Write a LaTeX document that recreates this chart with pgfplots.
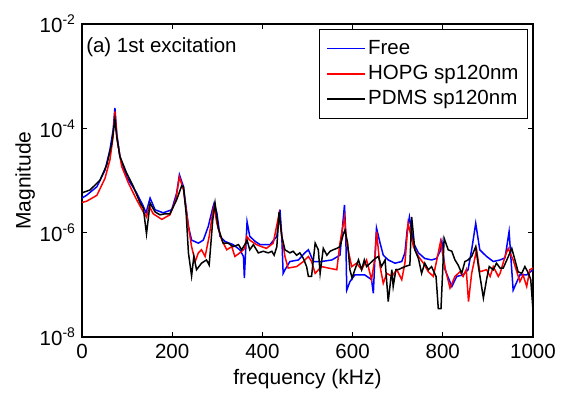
\documentclass[border=0pt]{standalone}
\usepackage{fontspec}
\setmainfont{Liberation Sans}
\usepackage{pgfplots}
\pgfplotsset{compat=1.18}
\newcommand{\fs}{\fontsize{20.5}{24}\selectfont}
\newcommand{\fl}{\fontsize{21}{25}\selectfont}
\newcommand{\pw}[1]{10\raisebox{8pt}{\fontsize{14}{14}\selectfont -#1}}
\begin{document}
\fs
\begin{tikzpicture}[x=1pt,y=1pt]
\path[use as bounding box] (-82,-55) rectangle (484,337);
\begin{axis}[
  at={(0pt,0pt)}, anchor=south west,
  scale only axis, width=451pt, height=313pt,
  xmin=0, xmax=1000, ymin=1e-8, ymax=1e-2, ymode=log,
  xtick={0,200,400,600,800,1000},
  ytick={1e-8,1e-6,1e-4,1e-2},
  yticklabels={\pw{8},\pw{6},\pw{4},\pw{2}},
  minor tick num=0, yminorticks=false,
  tick align=inside, tick pos=both,
  major tick length=5pt,
  tick style={black, line width=0.8pt},
  axis line style={line width=1.1pt},
  /pgf/number format/assume math mode=true,
  /pgf/number format/1000 sep={},
  tick label style={font=\fs},
  label style={font=\fl},
  xlabel={frequency (kHz)}, ylabel={Magnitude},
  xlabel style={at={(axis description cs:0.5,0)}, anchor=center, yshift=-42pt},
  ylabel style={at={(axis description cs:-0.126,0.5)}, anchor=center},
  legend style={at={(axis description cs:0.989,0.984)}, anchor=north east,
    draw=black, line width=1pt, fill=white, font=\fs, cells={anchor=west},
    inner xsep=7pt, inner ysep=8.5pt, row sep=4pt},
  legend image code/.code={\draw[#1, line width=1.6pt] (0pt,0pt) -- (38pt,0pt);},
  no markers,
]
\addplot[blue, line width=1.5pt] coordinates {
(0,4.6e-6) (10,5.2e-6) (33,7.6e-6) (51,1.58e-5) (62,3.9e-5) (69,9.3e-5) (73,2.45e-4) (77,8.1e-5) (84,2.9e-5) (99,1.17e-5) (121,5.8e-6) (136,3.2e-6) (142,2.4e-6) (151,4.6e-6) (162,2.75e-6) (180,2.4e-6) (199,2.75e-6) (210,5.8e-6) (216,1.29e-5) (225,7.6e-6) (236,1.32e-6) (243,7.2e-7) (258,6.3e-7) (269,7.2e-7) (280,1.32e-6) (290,3.0e-6) (293,3.7e-6) (299,2.4e-6) (306,8.5e-7) (317,6.8e-7) (335,5.9e-7) (350,4.7e-7) (358,3.5e-7) (360,1.35e-7) (366,1.62e-6) (372,8.5e-7) (384,6.8e-7) (395,5.9e-7) (417,5.9e-7) (432,8.5e-7) (439,2.75e-6) (443,8.5e-7) (446,1.66e-7) (450,1.95e-7) (461,2.8e-7) (480,3.0e-7) (494,4.1e-7) (502,4.7e-7) (513,2.8e-7) (531,2.8e-7) (554,3.0e-7) (572,3.7e-7) (577,1.12e-6) (582,3.4e-6) (585,8.5e-7) (587,7.9e-8) (594,1.15e-7) (605,1.55e-7) (627,1.55e-7) (642,1.26e-7) (646,6.9e-8) (650,4.1e-7) (653,1.23e-6) (661,6.3e-7) (668,3.7e-7) (679,3.0e-7) (694,2.6e-7) (709,2.8e-7) (716,4.1e-7) (721,1.12e-6) (726,2.0e-6) (735,6.3e-7) (746,4.1e-7) (760,3.2e-7) (775,3.0e-7) (786,3.2e-7) (794,4.4e-7) (798,6.8e-7) (805,1.95e-7) (820,9.3e-8) (831,1.45e-7) (845,1.55e-7) (856,1.95e-7) (864,4.7e-7) (873,1.51e-6) (882,4.7e-7) (897,3.5e-7) (912,2.8e-7) (927,3.0e-7) (938,3.3e-7) (947,1.05e-6) (956,7.9e-8) (971,1.55e-7) (986,1.55e-7) (1000,1.95e-7)
};
\addlegendentry{Free}
\addplot[red, line width=1.5pt] coordinates {
(0,3.8e-6) (10,4.0e-6) (33,5.2e-6) (51,1.1e-5) (62,2.5e-5) (69,6.9e-5) (73,2.1e-4) (78,6.0e-5) (88,1.86e-5) (103,8.9e-6) (121,4.3e-6) (136,2.5e-6) (143,2.0e-6) (149,3.2e-6) (158,2.3e-6) (177,1.8e-6) (195,2.2e-6) (208,4.3e-6) (216,1.17e-5) (225,6.6e-6) (236,1.32e-6) (243,5.4e-7) (251,2.8e-7) (258,4.1e-7) (265,4.7e-7) (273,3.5e-7) (282,8.5e-7) (290,2.5e-6) (293,3.2e-6) (299,1.51e-6) (310,7.2e-7) (321,4.7e-7) (332,5.4e-7) (339,3.5e-7) (350,4.1e-7) (361,5.0e-7) (365,8.5e-7) (372,7.2e-7) (387,5.9e-7) (398,5.4e-7) (409,5.0e-7) (424,6.3e-7) (437,2.3e-6) (443,8.5e-7) (450,3.5e-7) (457,2.1e-7) (476,2.24e-7) (491,2.8e-7) (502,3.5e-7) (509,2.8e-7) (517,1.66e-7) (531,2.24e-7) (546,2.1e-7) (565,1.95e-7) (572,6.3e-7) (582,2.0e-6) (587,6.3e-7) (598,2.24e-7) (609,2.6e-7) (620,1.95e-7) (631,3.0e-7) (642,1.26e-7) (650,3.5e-7) (653,1.05e-6) (661,2.24e-7) (668,1.07e-7) (676,1.66e-7) (687,1.45e-7) (698,1.95e-7) (709,1.26e-7) (716,2.6e-7) (723,1.51e-6) (735,5.4e-7) (746,3.5e-7) (757,2.6e-7) (768,1.78e-7) (779,1.45e-7) (790,4.1e-7) (795,6.8e-7) (805,2.1e-7) (816,8.7e-8) (827,1.45e-7) (838,1.78e-7) (845,1.45e-7) (852,1.95e-7) (857,4.8e-8) (864,1.66e-7) (875,4.7e-7) (882,1.78e-7) (897,1.95e-7) (905,1.45e-7) (912,2.24e-7) (923,1.45e-7) (927,1.66e-7) (938,3.5e-7) (945,5.0e-7) (956,3.0e-7) (971,1.15e-7) (978,1.55e-7) (986,9.3e-8) (993,1.95e-7) (1000,2.1e-7)
};
\addlegendentry{HOPG sp120nm}
\addplot[black, line width=1.5pt] coordinates {
(0,5.8e-6) (18,6.6e-6) (40,1.02e-5) (55,2.0e-5) (66,5.1e-5) (73,1.48e-4) (77,6.9e-5) (84,2.9e-5) (99,1.38e-5) (114,7.6e-6) (129,3.7e-6) (136,2.95e-6) (143,9.5e-7) (151,3.7e-6) (162,2.5e-6) (173,2.2e-6) (184,2.3e-6) (195,2.3e-6) (210,4.3e-6) (221,7.9e-6) (225,7.6e-6) (231,2.3e-6) (236,4.1e-7) (243,1.48e-7) (248,3.5e-7) (254,1.95e-7) (265,2.6e-7) (276,3.0e-7) (282,2.4e-7) (290,1.78e-6) (295,3.7e-6) (302,1.23e-6) (313,6.3e-7) (324,6.3e-7) (335,5.4e-7) (347,5.9e-7) (354,4.7e-7) (361,5.9e-7) (366,7.2e-7) (372,4.7e-7) (380,5.9e-7) (391,4.1e-7) (402,4.4e-7) (413,4.1e-7) (421,4.4e-7) (426,3.7e-7) (432,5.4e-7) (437,2.5e-6) (443,8.5e-7) (450,4.7e-7) (461,4.1e-7) (468,4.4e-7) (476,3.7e-7) (483,4.1e-7) (491,3.2e-7) (498,2.24e-7) (502,1.45e-7) (509,1.45e-7) (517,6.3e-7) (524,4.7e-7) (528,1.66e-7) (535,5.0e-7) (543,3.7e-7) (550,4.4e-7) (557,4.7e-7) (565,5.0e-7) (572,5.4e-7) (579,9.1e-7) (583,1.12e-6) (589,6.3e-7) (594,1.95e-7) (599,1.35e-7) (605,1.95e-7) (613,3.0e-7) (620,1.95e-7) (626,3.0e-7) (631,2.24e-7) (639,2.6e-7) (650,3.2e-7) (657,3.5e-7) (664,2.24e-7) (672,3.0e-7) (679,4.8e-8) (687,1.95e-7) (690,9.3e-8) (696,1.95e-7) (701,1.95e-7) (716,2.24e-7) (727,2.4e-7) (731,2.0e-6) (738,4.7e-7) (746,3.2e-7) (753,1.66e-7) (760,2.6e-7) (768,1.95e-7) (775,2.24e-7) (785,1.45e-7) (790,3.5e-8) (796,3.5e-8) (803,7.8e-7) (812,4.7e-7) (820,4.4e-7) (827,3.0e-7) (834,2.4e-7) (842,1.66e-7) (849,2.8e-7) (856,3.0e-7) (864,3.5e-7) (873,5.4e-7) (879,2.24e-7) (886,9.3e-8) (890,5.6e-8) (897,1.26e-7) (903,2.24e-7) (912,1.95e-7) (919,2.6e-7) (927,2.1e-7) (934,2.1e-7) (942,3.0e-7) (953,5.0e-7) (960,3.0e-7) (967,1.78e-7) (975,1.66e-7) (982,2.24e-7) (990,1.66e-7) (995,1.26e-7) (1000,3.3e-8)
};
\addlegendentry{PDMS sp120nm}
\node[anchor=west, font=\fs, inner sep=0pt] at (axis description cs:0.009,0.927) {(a) 1st excitation};
\end{axis}
\end{tikzpicture}
\end{document}
